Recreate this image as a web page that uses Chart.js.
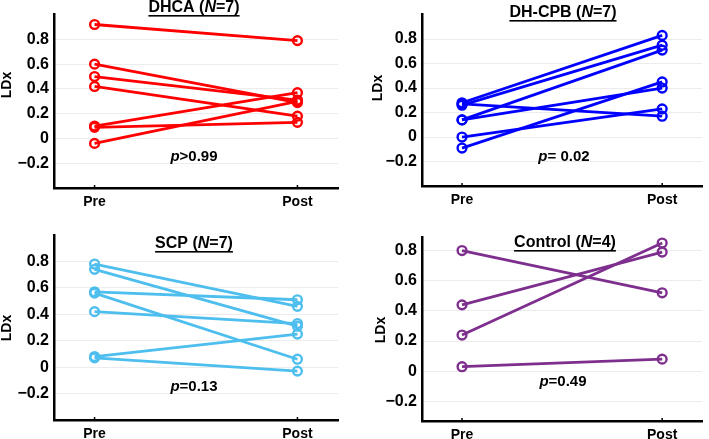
<!DOCTYPE html>
<html>
<head>
<meta charset="utf-8">
<script src="https://cdn.jsdelivr.net/npm/chart.js@4.4.1/dist/chart.umd.min.js"></script>
<style>
body { margin: 0; background: #fff; width: 709px; height: 439px; position: relative; overflow: hidden; }
canvas { position: absolute; }
</style>
</head>
<body>
<canvas id="c1" style="left:0;top:0"></canvas>
<canvas id="c2" style="left:354px;top:0"></canvas>
<canvas id="c3" style="left:0;top:220px"></canvas>
<canvas id="c4" style="left:354px;top:220px"></canvas>
<script>
// data
const xLabels = ['Pre', 'Post'];
const yTickValues = [-0.2, 0, 0.2, 0.4, 0.6, 0.8];
const yTickLabels = ['\u22120.2', '0', '0.2', '0.4', '0.6', '0.8'];

const groupNames = ['DHCA', 'DH-CPB', 'SCP', 'Control'];
const groupN = [7, 7, 7, 4];
const pTexts = ['>0.99', '= 0.02', '=0.13', '=0.49'];

const dhcaPre  = [0.92, 0.60, 0.50, 0.42, 0.10, 0.09, -0.04];
const dhcaPost = [0.79, 0.29, 0.31, 0.18, 0.37, 0.13, 0.30];

const cpbPre  = [0.28, 0.26, 0.27, 0.14, 0.14, 0.00, -0.09];
const cpbPost = [0.83, 0.75, 0.17, 0.71, 0.40, 0.23, 0.45];

const scpPre  = [0.78, 0.74, 0.57, 0.56, 0.42, 0.08, 0.07];
const scpPost = [0.46, 0.31, 0.51, 0.06, 0.33, 0.25, -0.03];

const ctrlPre  = [0.80, 0.44, 0.24, 0.03];
const ctrlPost = [0.52, 0.79, 0.85, 0.08];

const FONT = '"Liberation Sans", Arial, Helvetica, sans-serif';

// layout of each panel (canvas size, plot box inside it, text spots)
const panels = [
    { id: 'c1', w: 354, h: 220, left: 54, right: 338, top: 5, bottom: 188, yMin: -0.4, yMax: 1.0,
      pre: dhcaPre, post: dhcaPost, color: '#ff0000',
      titleX: 194, titleY: 8, pX: 194, pY: 157, labX: 7, labY: 85 },
    { id: 'c2', w: 355, h: 220, left: 68, right: 351, top: 3, bottom: 186, yMin: -0.4, yMax: 1.0,
      pre: cpbPre, post: cpbPost, color: '#0000ff',
      titleX: 209, titleY: 13, pX: 210, pY: 157, labX: 24, labY: 88 },
    { id: 'c3', w: 354, h: 219, left: 54, right: 338, top: 15, bottom: 200, yMin: -0.4, yMax: 1.0,
      pre: scpPre, post: scpPost, color: '#4dbeee',
      titleX: 194, titleY: 24, pX: 194, pY: 167, labX: 7, labY: 108 },
    { id: 'c4', w: 355, h: 219, left: 68, right: 351, top: 17, bottom: 201, yMin: -0.33, yMax: 0.89,
      pre: ctrlPre, post: ctrlPost, color: '#7e2f8e',
      titleX: 211, titleY: 23, pX: 209, pY: 162, labX: 27, labY: 110 }
];

// draw a line of text made of styled pieces, centered on cx
function drawRuns(ctx, runs, cx, cy, underline) {
    let total = 0;
    runs.forEach(r => { ctx.font = r.f; total += ctx.measureText(r.t).width; });
    let x = cx - total / 2;
    ctx.textAlign = 'left';
    ctx.textBaseline = 'middle';
    runs.forEach(r => {
        ctx.font = r.f;
        ctx.fillText(r.t, x, cy);
        x += ctx.measureText(r.t).width;
    });
    if (underline) {
        ctx.fillRect(cx - total / 2, cy + 7, total, 1.6);
    }
}

const panelText = {
    id: 'panelText',
    afterDraw(chart, args, opts) {
        const ctx = chart.ctx;
        const xs = chart.scales.x;
        const area = chart.chartArea;
        ctx.save();
        ctx.fillStyle = '#000';
        ctx.strokeStyle = '#000';

        // inward tick marks on the x axis
        ctx.lineWidth = 1.5;
        [0, 1].forEach(v => {
            const px = xs.getPixelForValue(v);
            ctx.beginPath();
            ctx.moveTo(px, area.bottom);
            ctx.lineTo(px, area.bottom - 3);
            ctx.stroke();
        });

        drawRuns(ctx, [
            { t: opts.name + ' (', f: 'bold 16px ' + FONT },
            { t: 'N', f: 'italic bold 16px ' + FONT },
            { t: '=' + opts.n + ')', f: 'bold 16px ' + FONT }
        ], opts.titleX, opts.titleY, true);

        drawRuns(ctx, [
            { t: 'p', f: 'italic bold 15px ' + FONT },
            { t: opts.p, f: 'bold 15px ' + FONT }
        ], opts.pX, opts.pY, false);

        ctx.translate(opts.labX, opts.labY);
        ctx.rotate(-Math.PI / 2);
        ctx.font = 'bold 14px ' + FONT;
        ctx.textAlign = 'center';
        ctx.textBaseline = 'middle';
        ctx.fillText('LDx', 0, 0);
        ctx.restore();
    }
};

panels.forEach((p, k) => {
    const canvas = document.getElementById(p.id);
    canvas.width = p.w;
    canvas.height = p.h;
    canvas.style.width = p.w + 'px';
    canvas.style.height = p.h + 'px';

    const datasets = p.pre.map((v, i) => ({
        data: [{ x: 0, y: v }, { x: 1, y: p.post[i] }],
        borderColor: p.color,
        backgroundColor: 'rgba(0,0,0,0)',
        borderWidth: 2.8,
        pointRadius: 4.4,
        pointBorderWidth: 2.4,
        pointBorderColor: p.color,
        pointBackgroundColor: 'rgba(0,0,0,0)',
        showLine: true,
        tension: 0
    }));

    new Chart(canvas, {
        type: 'scatter',
        data: { datasets },
        plugins: [panelText],
        options: {
            responsive: false,
            animation: false,
            layout: { padding: { top: p.top, right: p.w - p.right, left: 0, bottom: 0 } },
            plugins: {
                legend: { display: false },
                tooltip: { enabled: false },
                panelText: {
                    name: groupNames[k], n: groupN[k], p: pTexts[k],
                    titleX: p.titleX, titleY: p.titleY, pX: p.pX, pY: p.pY,
                    labX: p.labX, labY: p.labY
                }
            },
            scales: {
                x: {
                    type: 'linear',
                    min: -0.2,
                    max: 1.2,
                    afterBuildTicks: scale => { scale.ticks = [{ value: 0 }, { value: 1 }]; },
                    afterFit: scale => { scale.height = p.h - p.bottom; },
                    grid: { display: false, drawTicks: false },
                    border: { display: true, color: '#000', width: 2.5 },
                    ticks: {
                        padding: 6,
                        color: '#000',
                        font: { family: FONT, size: 14, weight: 'bold' },
                        callback: v => xLabels[v]
                    }
                },
                y: {
                    min: p.yMin,
                    max: p.yMax,
                    afterBuildTicks: scale => { scale.ticks = yTickValues.map(v => ({ value: v })); },
                    afterFit: scale => { scale.width = p.left; },
                    grid: { color: '#ececec', lineWidth: 1, drawTicks: false },
                    border: { display: true, color: '#000', width: 2.5 },
                    ticks: {
                        padding: 5,
                        color: '#000',
                        font: { family: FONT, size: 16, weight: 'bold' },
                        callback: v => {
                            const i = yTickValues.findIndex(t => Math.abs(t - v) < 1e-6);
                            return i >= 0 ? yTickLabels[i] : '';
                        }
                    }
                }
            }
        }
    });
});
</script>
</body>
</html>
